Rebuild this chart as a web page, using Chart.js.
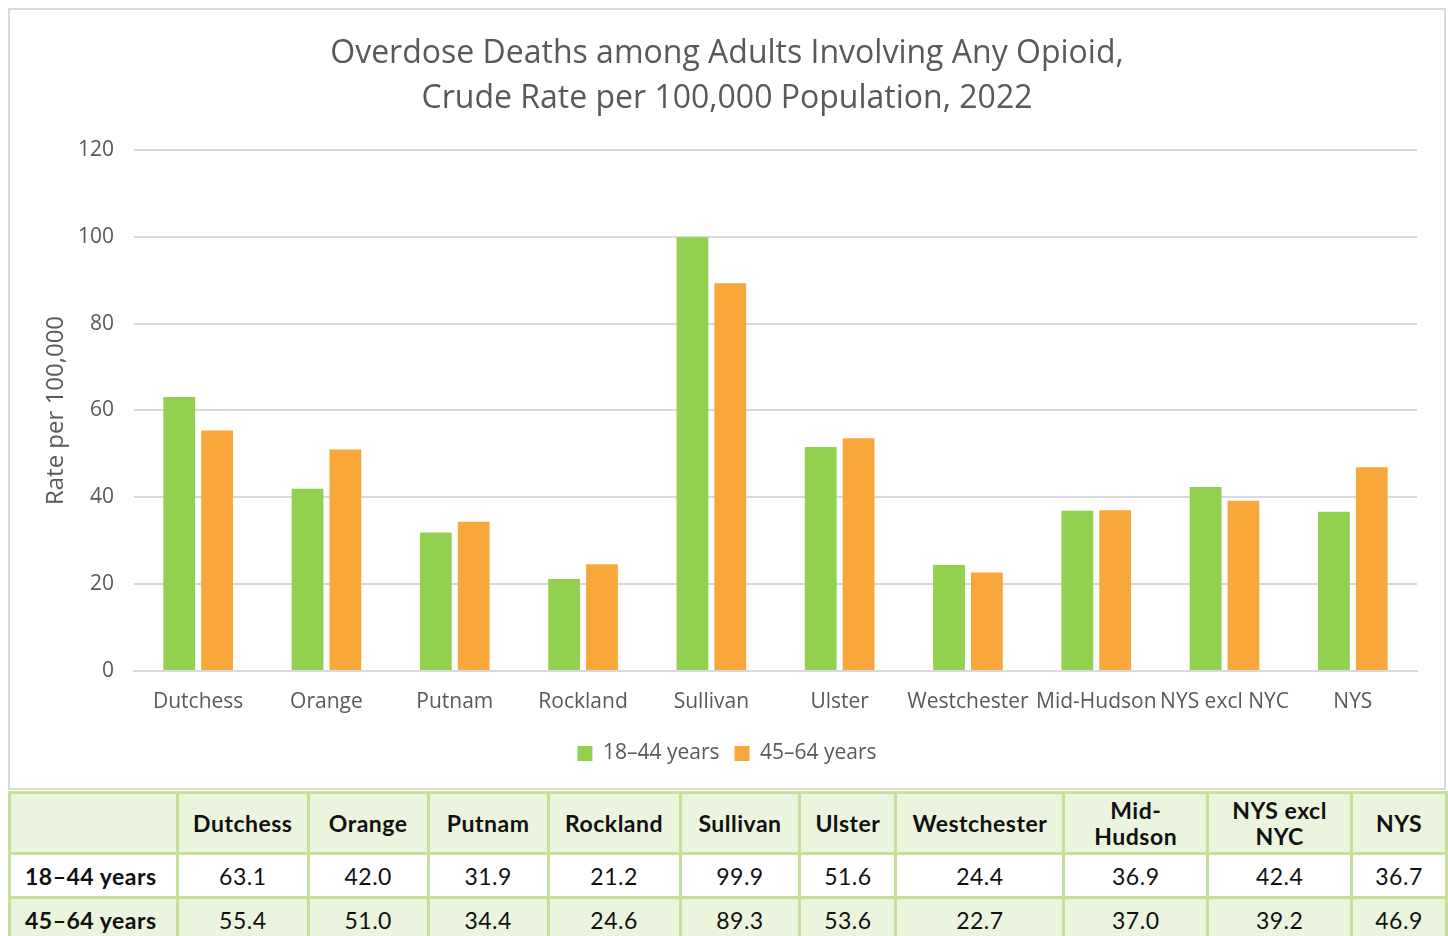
<!DOCTYPE html>
<html>
<head>
<meta charset="utf-8">
<script src="https://cdn.jsdelivr.net/npm/chart.js@4"></script>
<style>
    body { margin: 0; background: #fff; width: 1448px; height: 936px; overflow: hidden; position: relative; }
    #box { position: absolute; left: 8px; top: 8px; width: 1438px; height: 782px; border: 2px solid #d9d9d9; box-sizing: border-box; }
    #box canvas { display: block; }
    table { position: absolute; left: 8px; top: 791px; border-collapse: collapse; font-family: "Lato", "DejaVu Sans", sans-serif; color: #111; }
    td, th { border: 3px solid #c4e09a; text-align: center; font-size: 23px; letter-spacing: 0.5px; padding: 0; }
    th { font-weight: bold; line-height: 26px; }
    tr.head { background: #ebf4dd; height: 61px; }
    tr.r1 { background: #fff; height: 44px; }
    tr.r2 { background: #ebf4dd; height: 44px; }
    td.lab { font-weight: bold; text-align: left; padding-left: 14px; }
</style>
</head>
<body>
<div id="box"><canvas id="chart" width="1434" height="778"></canvas></div>
<table id="tbl"></table>
<script>
// Dữ liệu biểu đồ
const counties = ['Dutchess', 'Orange', 'Putnam', 'Rockland', 'Sullivan', 'Ulster', 'Westchester', 'Mid-Hudson', 'NYS excl NYC', 'NYS'];
const headerLabels = ['Dutchess', 'Orange', 'Putnam', 'Rockland', 'Sullivan', 'Ulster', 'Westchester', 'Mid-<br>Hudson', 'NYS excl<br>NYC', 'NYS'];
const age18to44 = [63.1, 42.0, 31.9, 21.2, 99.9, 51.6, 24.4, 36.9, 42.4, 36.7];
const age45to64 = [55.4, 51.0, 34.4, 24.6, 89.3, 53.6, 22.7, 37.0, 39.2, 46.9];
const seriesNames = ['18–44 years', '45–64 years'];
const colWidths = [168, 131, 120, 120, 132, 120, 96, 168, 144, 144, 95];

const gray = '#595959';
const fontName = '"Open Sans", "Noto Sans", sans-serif';

// Vẽ biểu đồ
const ctx = document.getElementById('chart').getContext('2d');
new Chart(ctx, {
    type: 'bar',
    data: {
        labels: counties,
        datasets: [{
            label: seriesNames[0],
            data: age18to44,
            backgroundColor: '#92d050'
        }, {
            label: seriesNames[1],
            data: age45to64,
            backgroundColor: '#f8a73a'
        }]
    },
    options: {
        responsive: false,
        animation: false,
        categoryPercentage: 0.59,
        barPercentage: 0.84,
        layout: { padding: { left: 0, right: 0, top: 21, bottom: 14 } },
        scales: {
            y: {
                min: 0,
                max: 120,
                ticks: { stepSize: 20, color: gray, font: { family: fontName, size: 21 }, padding: 20 },
                grid: { color: '#d9d9d9', lineWidth: 2, drawTicks: false },
                border: { display: false },
                title: { display: true, text: 'Rate per 100,000', color: gray, font: { family: fontName, size: 24 }, padding: { top: 32, bottom: 0 } },
                afterFit: s => { s.width = 124; }
            },
            // trục phải trống chỉ để chừa lề
            yRight: {
                position: 'right',
                min: 0,
                max: 120,
                ticks: { display: false },
                grid: { display: false },
                border: { display: false },
                afterFit: s => { s.width = 27; }
            },
            x: {
                ticks: { color: gray, font: { family: fontName, size: 21 }, padding: 10, maxRotation: 0, autoSkip: false },
                grid: { display: false },
                border: { color: '#d9d9d9', width: 2 },
                afterFit: s => { s.height = 57; }
            }
        },
        plugins: {
            title: {
                display: true,
                text: ['Overdose Deaths among Adults Involving Any Opioid,', 'Crude Rate per 100,000 Population, 2022'],
                color: gray,
                font: { family: fontName, size: 32, weight: 'normal', lineHeight: 1.406 },
                padding: { top: 0, bottom: 29 }
            },
            legend: {
                position: 'bottom',
                labels: { color: gray, font: { family: fontName, size: 21 }, boxWidth: 15, boxHeight: 15, padding: 15 }
            },
            tooltip: { enabled: false }
        }
    }
});

// Bảng số liệu bên dưới
const tbl = document.getElementById('tbl');
let html = '<colgroup>' + colWidths.map(w => '<col style="width:' + w + 'px">').join('') + '</colgroup>';
html += '<tr class="head"><th></th>' + headerLabels.map(h => '<th>' + h + '</th>').join('') + '</tr>';
html += '<tr class="r1"><td class="lab">' + seriesNames[0] + '</td>' + age18to44.map(v => '<td>' + v.toFixed(1) + '</td>').join('') + '</tr>';
html += '<tr class="r2"><td class="lab">' + seriesNames[1] + '</td>' + age45to64.map(v => '<td>' + v.toFixed(1) + '</td>').join('') + '</tr>';
tbl.innerHTML = html;
</script>
</body>
</html>
